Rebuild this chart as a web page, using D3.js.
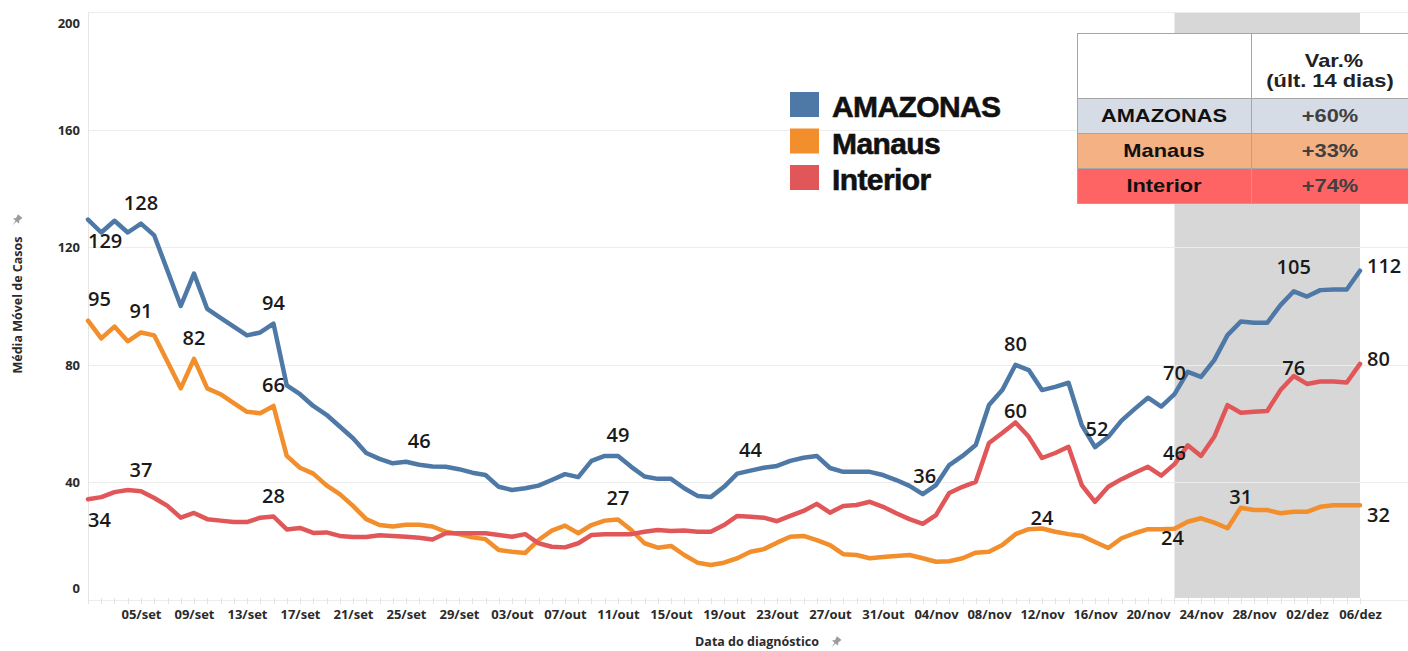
<!DOCTYPE html>
<html>
<head>
<meta charset="utf-8">
<script src="https://cdn.jsdelivr.net/npm/d3@7"></script>
<style>
  body { margin: 0; background: #fff; }
  svg { display: block; font-family: "Open Sans", sans-serif; }
</style>
</head>
<body>
<svg id="chart" width="1408" height="651"></svg>
<script>
// daily 7-day moving average, 01/set .. 06/dez
var start_date = new Date(2020, 8, 1);
var end_date = new Date(2020, 11, 6);

var amazonas = [
  129.4, 125, 129, 125, 128, 124, 112, 100, 111, 99, 96, 93, 90, 91, 94, 73, 70, 66, 63, 59,
  55, 50, 48, 46.5, 47, 46, 45.4, 45.3, 44.5, 43.3, 42.5, 38.5, 37.4, 38, 38.9, 40.8, 42.8, 41.8, 47.3, 49,
  49, 45.3, 42, 41.2, 41.2, 38, 35.4, 35, 38.5, 43, 44, 45, 45.6, 47.3, 48.4, 49, 44.9, 43.6, 43.6, 43.6,
  42.5, 40.8, 38.8, 36, 39.1, 45.9, 49, 52.7, 66.3, 71.4, 80, 78.2, 71.4, 72.5, 73.9, 59.5, 52, 55.5, 61, 65,
  68.8, 65.8, 70, 77.6, 75.9, 81.6, 90.1, 94.7, 94.3, 94.3, 100.3, 105, 103.2, 105.4, 105.6, 105.6, 112
];
var manaus = [
  95, 89, 93, 88, 91, 90, 81, 72, 82, 72, 70, 67, 64, 63.5, 66, 49, 45, 43, 39, 36,
  32, 27.5, 25.5, 25, 25.6, 25.6, 25, 23.2, 22.4, 21.3, 20.7, 17, 16.4, 16, 20.4, 23.6, 25.3, 22.7, 25.5, 27,
  27.4, 23.8, 19.3, 17.8, 18.4, 15.3, 12.7, 11.9, 12.7, 14.2, 16.4, 17.3, 19.5, 21.5, 21.8, 20.4, 18.7, 15.6, 15.3, 14.2,
  14.6, 15, 15.3, 14.2, 13, 13.2, 14.2, 16.1, 16.4, 18.7, 22.4, 24.1, 24.3, 23.2, 22.4, 21.8, 19.7, 17.7, 21, 22.7,
  24.1, 24.1, 24.2, 26.6, 27.8, 26.3, 24.4, 31.4, 30.6, 30.6, 29.5, 30, 30, 31.7, 32.2, 32.2, 32.2
];
var interior = [
  34.3, 35, 36.7, 37.4, 37, 34.7, 32, 28, 29.6, 27.5, 27, 26.5, 26.5, 28, 28.4, 24, 24.5, 22.8, 23, 21.8,
  21.4, 21.4, 22, 21.8, 21.5, 21.2, 20.6, 22.7, 22.7, 22.7, 22.7, 22.1, 21.5, 22.4, 19.3, 18.1, 17.9, 19.3, 22.1, 22.4,
  22.4, 22.4, 23.2, 23.8, 23.5, 23.6, 23.2, 23.2, 25.5, 28.6, 28.3, 28, 26.8, 28.6, 30.3, 32.7, 29.7, 32, 32.3, 33.4,
  31.7, 29.5, 27.5, 25.9, 28.9, 36.4, 38.5, 40.2, 53.4, 56.8, 60.4, 55.5, 48.3, 50, 52.1, 39.1, 33.4, 38.5, 41.1, 43.3,
  45.3, 42.3, 46.2, 52.6, 49, 55.5, 66.3, 63.7, 64, 64.3, 71.4, 76.2, 73.5, 74.3, 74.3, 74, 80.3
];

var series_names = ["AMAZONAS", "Manaus", "Interior"];
var series_colors = ["#4e79a7", "#f28e2b", "#e15759"];
var y_ticks = [0, 40, 80, 120, 160, 200];
var x_tick_labels = ["05/set", "09/set", "13/set", "17/set", "21/set", "25/set", "29/set", "03/out",
  "07/out", "11/out", "15/out", "19/out", "23/out", "27/out", "31/out", "04/nov", "08/nov", "12/nov",
  "16/nov", "20/nov", "24/nov", "28/nov", "02/dez", "06/dez"];
var month_index = { set: 8, out: 9, nov: 10, dez: 11 };
var highlight_days = 14;

var table_header = ["Var.%", "(últ. 14 dias)"];
var table_values = ["+60%", "+33%", "+74%"];
var table_row_colors = ["#d6dce5", "#f4b183", "#ff6464"];

// which points get a value label, and where it sits
var point_labels = [
  ["AMAZONAS", 0, "start_below"], ["AMAZONAS", 4, "above"], ["AMAZONAS", 14, "above"],
  ["AMAZONAS", 25, "high"], ["AMAZONAS", 40, "above"], ["AMAZONAS", 50, "above"],
  ["AMAZONAS", 63, "low"], ["AMAZONAS", 70, "above"], ["AMAZONAS", 76, "low"],
  ["AMAZONAS", 82, "above"], ["AMAZONAS", 91, "high"], ["AMAZONAS", 96, "end"],
  ["Manaus", 0, "start_above"], ["Manaus", 4, "above"], ["Manaus", 8, "above"],
  ["Manaus", 14, "above"], ["Manaus", 40, "above"], ["Manaus", 72, "close"],
  ["Manaus", 82, "below"], ["Manaus", 87, "close"], ["Manaus", 96, "end_below"],
  ["Interior", 0, "start_below"], ["Interior", 4, "above"], ["Interior", 14, "above"],
  ["Interior", 70, "close"], ["Interior", 82, "close"], ["Interior", 91, "top"], ["Interior", 96, "end"]
];

var label_layout = {
  above: { dx: 0, dy: -14, anchor: "middle" },
  high: { dx: 0, dy: -17, anchor: "middle" },
  low: { dx: 2, dy: -11, anchor: "middle" },
  close: { dx: 0, dy: -4, anchor: "middle" },
  top: { dx: 0, dy: -1, anchor: "middle" },
  below: { dx: -2, dy: 16, anchor: "middle" },
  start_above: { dx: 0, dy: -15, anchor: "start" },
  start_below: { dx: 0, dy: 28, anchor: "start" },
  end: { dx: 7, dy: 2, anchor: "start" },
  end_below: { dx: 7, dy: 17, anchor: "start" }
};

var svg = d3.select("#chart");
var plot = { left: 88, right: 1360, top: 12, bottom: 600 };

var dates = d3.timeDay.range(start_date, d3.timeDay.offset(end_date, 1));
var series = [amazonas, manaus, interior];

var x = d3.scaleTime().domain([start_date, end_date]).range([plot.left, plot.right]);
var y = d3.scaleLinear().domain([0, 200]).range([plot.bottom, plot.top]);

// highlighted last 14 days
var band_start = d3.timeDay.offset(end_date, -highlight_days);
svg.append("rect")
  .attr("x", x(band_start))
  .attr("y", plot.top)
  .attr("width", x(end_date) - x(band_start))
  .attr("height", 598 - plot.top)
  .attr("fill", "#d7d7d7");

// gridlines
svg.append("g")
  .selectAll("line")
  .data(y_ticks)
  .join("line")
  .attr("x1", plot.left)
  .attr("x2", 1408)
  .attr("y1", function (d) { return Math.round(y(d)) + 0.5; })
  .attr("y2", function (d) { return Math.round(y(d)) + 0.5; })
  .attr("stroke", "#ececec")
  .attr("stroke-width", 1);

svg.append("line")
  .attr("x1", plot.left + 0.5).attr("x2", plot.left + 0.5)
  .attr("y1", plot.top).attr("y2", 603)
  .attr("stroke", "#e6e6e6");

// daily tick marks
svg.append("g")
  .selectAll("line")
  .data(dates)
  .join("line")
  .attr("x1", function (d) { return Math.round(x(d)) + 0.5; })
  .attr("x2", function (d) { return Math.round(x(d)) + 0.5; })
  .attr("y1", 598)
  .attr("y2", 604)
  .attr("stroke", "#e2e2e2");

// y axis labels
var y_axis = svg.append("g")
  .attr("transform", "translate(" + (plot.left - 8) + ",0)")
  .call(d3.axisLeft(y).tickValues(y_ticks).tickSize(0).tickPadding(0));
y_axis.select(".domain").remove();
y_axis.selectAll("text")
  .attr("y", function (d) { return Math.min(Math.max(y(d), 23), 588) - y(d); })
  .attr("dy", "0.35em")
  .style("font-family", "Open Sans")
  .style("font-size", "13px")
  .style("font-weight", "700")
  .attr("fill", "#2b2b2b");

// x axis labels
var tick_dates = x_tick_labels.map(function (s) {
  var parts = s.split("/");
  return new Date(2020, month_index[parts[1]], +parts[0]);
});
var x_axis = svg.append("g")
  .attr("transform", "translate(0,610)")
  .call(d3.axisBottom(x)
    .tickValues(tick_dates)
    .tickSize(0)
    .tickPadding(0)
    .tickFormat(function (d, i) { return x_tick_labels[i]; }));
x_axis.select(".domain").remove();
x_axis.selectAll("text")
  .attr("dy", "0.71em")
  .style("font-family", "Open Sans")
  .style("font-size", "13px")
  .style("font-weight", "700")
  .attr("fill", "#2b2b2b");

function pin(x0, y0) {
  svg.append("path")
    .attr("d", "M-3,-5 L3,-5 L2,-1 L4,1.5 L-4,1.5 L-2,-1 Z M-0.7,1.5 L0,7 L0.7,1.5 Z")
    .attr("transform", "translate(" + x0 + "," + y0 + ") rotate(40)")
    .attr("fill", "#9c9c9c");
}

// axis titles
svg.append("text")
  .attr("transform", "translate(22,305) rotate(-90)")
  .attr("text-anchor", "middle")
  .style("font-size", "12.5px")
  .style("font-weight", "700")
  .attr("fill", "#2b2b2b")
  .text("Média Móvel de Casos");
pin(17, 220);

svg.append("text")
  .attr("x", 757)
  .attr("y", 646)
  .attr("text-anchor", "middle")
  .style("font-size", "12.5px")
  .style("font-weight", "700")
  .attr("fill", "#2b2b2b")
  .text("Data do diagnóstico");
pin(836, 642);

// lines
var line = d3.line()
  .x(function (d, i) { return x(dates[i]); })
  .y(function (d) { return y(d); });

svg.append("g")
  .selectAll("path")
  .data(series)
  .join("path")
  .attr("d", line)
  .attr("fill", "none")
  .attr("stroke", function (d, i) { return series_colors[i]; })
  .attr("stroke-width", 4.5)
  .attr("stroke-linejoin", "round")
  .attr("stroke-linecap", "round");

// value labels
svg.append("g")
  .selectAll("text")
  .data(point_labels)
  .join("text")
  .each(function (d) {
    var values = series[series_names.indexOf(d[0])];
    var v = values[d[1]];
    var lay = label_layout[d[2]];
    d3.select(this)
      .attr("x", x(dates[d[1]]) + lay.dx)
      .attr("y", y(v) + lay.dy)
      .attr("text-anchor", lay.anchor)
      .text(Math.round(v));
  })
  .style("font-family", "Open Sans")
  .style("font-size", "20px")
  .style("font-weight", "600")
  .attr("fill", "#1a1a1a");

// legend
var legend = svg.append("g");
series_names.forEach(function (name, i) {
  legend.append("rect")
    .attr("x", 790)
    .attr("y", 92 + i * 36.5)
    .attr("width", 29)
    .attr("height", 25)
    .attr("fill", series_colors[i]);
  legend.append("text")
    .attr("x", 832)
    .attr("y", 117 + i * 36.5)
    .style("font-family", "Liberation Sans")
    .style("font-size", "30px")
    .style("font-weight", "700")
    .style("letter-spacing", "-0.6px")
    .attr("fill", "#111")
    .attr("stroke", "#111")
    .attr("stroke-width", 0.6)
    .text(name);
});

// variation table
var table = svg.append("g");
var col_x = [1077, 1251, 1409];
var row_y = [33, 98, 133, 168, 203];

table.append("rect")
  .attr("x", col_x[0]).attr("y", row_y[0])
  .attr("width", col_x[2] - col_x[0]).attr("height", row_y[1] - row_y[0])
  .attr("fill", "#fff");
table_row_colors.forEach(function (c, i) {
  table.append("rect")
    .attr("x", col_x[0]).attr("y", row_y[i + 1])
    .attr("width", col_x[2] - col_x[0]).attr("height", row_y[i + 2] - row_y[i + 1])
    .attr("fill", c);
});
row_y.forEach(function (ry) {
  table.append("line")
    .attr("x1", col_x[0]).attr("x2", col_x[2])
    .attr("y1", ry + 0.5).attr("y2", ry + 0.5)
    .attr("stroke", "#a6a6a6");
});
col_x.slice(0, 2).forEach(function (cx) {
  table.append("line")
    .attr("x1", cx + 0.5).attr("x2", cx + 0.5)
    .attr("y1", row_y[0]).attr("y2", row_y[4])
    .attr("stroke", "#a6a6a6");
});

function table_text(tx, ty, s, color) {
  var t = table.append("text")
    .attr("x", tx)
    .attr("y", ty)
    .attr("text-anchor", "middle")
    .style("font-family", "Liberation Sans")
    .style("font-size", "18.5px")
    .style("font-weight", "700")
    .attr("fill", color)
    .text(s);
  var w = t.node().getComputedTextLength();
  t.attr("textLength", w * 1.18).attr("lengthAdjust", "spacingAndGlyphs");
}

var left_center = (col_x[0] + col_x[1]) / 2;
var right_center = (col_x[1] + col_x[2]) / 2;
table_text(right_center + 4, 67, table_header[0], "#222");
table_text(right_center, 87, table_header[1], "#222");
series_names.forEach(function (name, i) {
  table_text(left_center, row_y[i + 1] + 24, name, "#111");
  table_text(right_center, row_y[i + 1] + 24, table_values[i], "#404040");
});
</script>
</body>
</html>
